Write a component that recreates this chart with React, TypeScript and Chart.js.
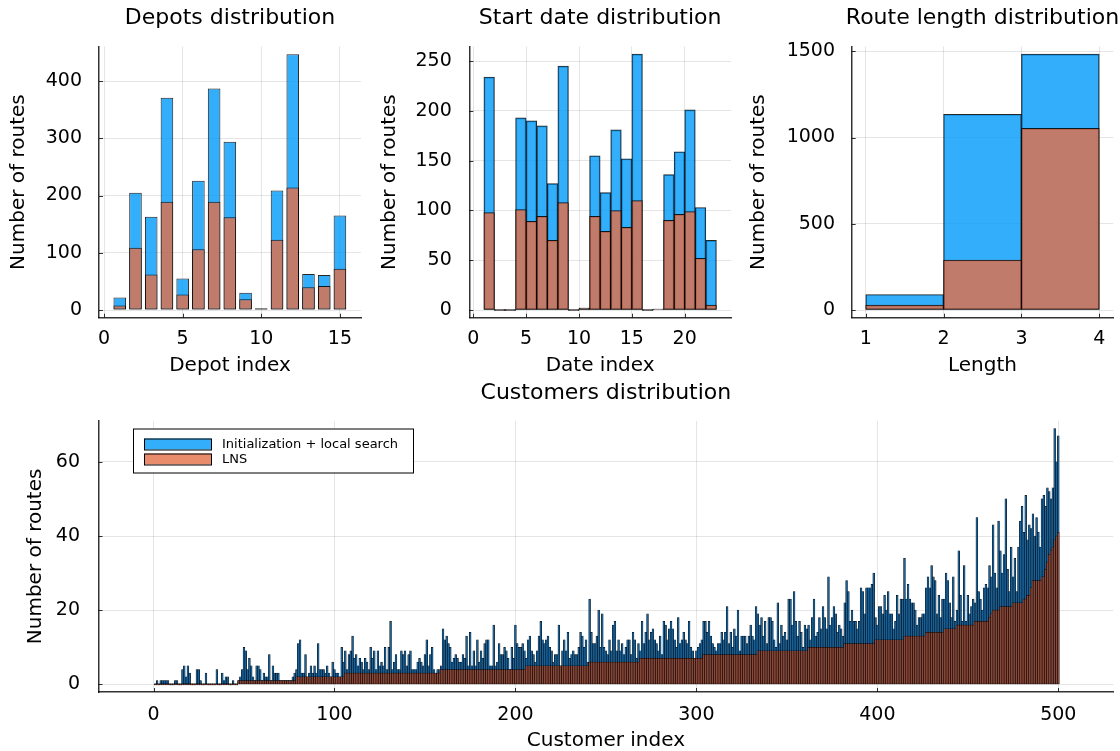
import React, { useEffect, useRef } from "react";
import { Chart, registerables } from "chart.js";

Chart.register(...registerables);

// ---------------- data ----------------
const seriesNames = ["Initialization + local search", "LNS"];

const depotIndex = [1, 2, 3, 4, 5, 6, 7, 8, 9, 10, 11, 12, 13, 14, 15];
const depotInit = [22, 205, 163, 371, 55, 226, 387, 294, 30, 3, 209, 447, 63, 61, 165];
const depotLNS = [8, 109, 62, 189, 27, 106, 189, 162, 19, 2, 123, 214, 40, 42, 72];

const dateBinCenters = [1.5, 2.5, 3.5, 4.5, 5.5, 6.5, 7.5, 8.5, 9.5, 10.5, 11.5, 12.5, 13.5, 14.5, 15.5, 16.5, 17.5, 18.5, 19.5, 20.5, 21.5, 22.5];
const dateInit = [234, 0, 0, 193, 190, 185, 127, 245, 0, 2, 155, 118, 181, 152, 257, 0, 1, 136, 159, 201, 103, 70];
const dateLNS = [98, 0, 0, 101, 89, 94, 70, 108, 0, 2, 94, 79, 100, 83, 110, 0, 1, 90, 96, 99, 52, 5];

const lengthBinCenters = [1.5, 2.5, 3.5];
const lengthInit = [90, 1135, 1483];
const lengthLNS = [28, 290, 1053];

const customerInit = [
  0, 1, 0, 1, 1, 1, 1, 1, 0, 0,
  0, 1, 1, 0, 0, 4, 5, 2, 5, 3,
  0, 0, 0, 4, 4, 1, 0, 0, 3, 0,
  0, 0, 0, 0, 4, 0, 0, 3, 1, 2,
  2, 0, 0, 1, 0, 0, 1, 2, 4, 10,
  9, 4, 7, 5, 2, 1, 5, 5, 4, 1,
  3, 2, 2, 8, 1, 5, 3, 3, 3, 1,
  1, 1, 1, 1, 1, 1, 2, 3, 4, 11,
  12, 3, 3, 8, 2, 3, 5, 3, 5, 3,
  11, 4, 4, 4, 3, 5, 3, 2, 6, 4,
  3, 3, 2, 10, 6, 9, 4, 8, 9, 13,
  7, 8, 5, 7, 6, 4, 7, 6, 4, 10,
  7, 9, 4, 9, 5, 6, 5, 10, 4, 10,
  17, 4, 6, 8, 4, 4, 9, 8, 9, 5,
  8, 9, 4, 4, 4, 6, 7, 6, 5, 8,
  12, 5, 8, 10, 4, 3, 4, 4, 5, 15,
  12, 13, 11, 10, 6, 7, 8, 7, 6, 6,
  8, 7, 13, 5, 14, 5, 9, 5, 12, 6,
  9, 7, 11, 12, 12, 5, 5, 16, 5, 6,
  11, 8, 8, 10, 9, 7, 4, 10, 7, 16,
  11, 10, 10, 11, 9, 7, 12, 13, 9, 8,
  6, 9, 13, 17, 12, 11, 12, 13, 10, 9,
  6, 8, 8, 16, 5, 9, 12, 9, 14, 7,
  8, 9, 8, 8, 10, 14, 13, 10, 12, 6,
  23, 14, 11, 11, 13, 20, 10, 19, 10, 9,
  8, 12, 9, 16, 17, 9, 12, 9, 11, 8,
  10, 12, 12, 8, 14, 12, 7, 11, 9, 17,
  11, 14, 19, 12, 14, 15, 12, 11, 9, 13,
  8, 17, 16, 12, 15, 17, 15, 12, 10, 18,
  11, 12, 14, 12, 11, 17, 10, 9, 7, 9,
  10, 11, 12, 17, 17, 14, 17, 13, 11, 10,
  9, 11, 11, 14, 12, 14, 21, 11, 14, 10,
  15, 13, 20, 9, 13, 13, 13, 11, 13, 16,
  13, 12, 21, 19, 16, 18, 13, 17, 11, 18,
  18, 17, 12, 10, 22, 11, 16, 13, 14, 12,
  23, 23, 16, 25, 17, 13, 17, 14, 10, 16,
  15, 16, 12, 18, 23, 13, 14, 18, 15, 21,
  18, 15, 29, 16, 18, 21, 19, 14, 16, 15,
  13, 22, 28, 25, 17, 20, 17, 17, 15, 17,
  26, 25, 19, 26, 26, 26, 27, 30, 18, 16,
  21, 21, 19, 24, 20, 25, 19, 19, 15, 17,
  24, 19, 23, 23, 34, 23, 27, 23, 22, 22,
  20, 16, 18, 18, 19, 19, 26, 29, 26, 32,
  29, 28, 19, 24, 18, 23, 23, 30, 28, 22,
  18, 29, 17, 20, 36, 24, 17, 32, 17, 24,
  19, 21, 23, 22, 45, 25, 23, 20, 26, 27,
  26, 32, 29, 43, 30, 26, 44, 36, 30, 35,
  50, 31, 25, 37, 29, 34, 25, 37, 44, 48,
  41, 51, 39, 43, 42, 46, 40, 45, 41, 37,
  50, 51, 48, 53, 52, 50, 53, 69, 60, 67,
];

const customerLNS = [
  0, 0, 0, 0, 0, 0, 0, 0, 0, 0,
  0, 0, 0, 0, 0, 0, 0, 0, 0, 0,
  0, 0, 0, 0, 0, 0, 0, 0, 0, 0,
  0, 0, 0, 0, 0, 0, 0, 0, 0, 0,
  0, 0, 0, 0, 0, 0, 1, 1, 1, 1,
  1, 1, 1, 1, 1, 1, 1, 1, 1, 1,
  1, 1, 1, 1, 1, 1, 1, 1, 1, 1,
  1, 1, 1, 1, 1, 1, 1, 1, 2, 2,
  2, 2, 2, 2, 2, 2, 2, 2, 2, 2,
  2, 2, 2, 2, 2, 2, 2, 2, 2, 2,
  2, 2, 2, 2, 2, 3, 3, 3, 3, 3,
  3, 3, 3, 3, 3, 3, 3, 3, 3, 3,
  3, 3, 3, 3, 3, 3, 3, 3, 3, 3,
  3, 3, 3, 3, 3, 3, 3, 3, 3, 3,
  3, 3, 3, 3, 3, 3, 3, 3, 3, 3,
  3, 3, 3, 3, 3, 3, 3, 3, 4, 4,
  4, 4, 4, 4, 4, 4, 4, 4, 4, 4,
  4, 4, 4, 4, 4, 4, 4, 4, 4, 4,
  4, 4, 4, 4, 4, 4, 4, 4, 4, 4,
  4, 4, 4, 4, 4, 4, 4, 4, 4, 4,
  4, 4, 4, 4, 4, 5, 5, 5, 5, 5,
  5, 5, 5, 5, 5, 5, 5, 5, 5, 5,
  5, 5, 5, 5, 5, 5, 5, 5, 5, 5,
  5, 5, 5, 5, 5, 5, 5, 5, 5, 5,
  6, 6, 6, 6, 6, 6, 6, 6, 6, 6,
  6, 6, 6, 6, 6, 6, 6, 6, 6, 6,
  6, 6, 6, 6, 6, 6, 6, 6, 7, 7,
  7, 7, 7, 7, 7, 7, 7, 7, 7, 7,
  7, 7, 7, 7, 7, 7, 7, 7, 7, 7,
  7, 7, 7, 7, 7, 7, 7, 7, 7, 7,
  7, 7, 7, 8, 8, 8, 8, 8, 8, 8,
  8, 8, 8, 8, 8, 8, 8, 8, 8, 8,
  8, 8, 8, 8, 8, 8, 8, 8, 8, 8,
  8, 8, 8, 9, 9, 9, 9, 9, 9, 9,
  9, 9, 9, 9, 9, 9, 9, 9, 9, 9,
  9, 9, 9, 9, 9, 9, 9, 9, 9, 9,
  9, 10, 10, 10, 10, 10, 10, 10, 10, 10,
  10, 10, 10, 10, 10, 10, 10, 10, 10, 10,
  10, 11, 11, 11, 11, 11, 11, 11, 11, 11,
  11, 11, 11, 11, 11, 11, 11, 11, 12, 12,
  12, 12, 12, 12, 12, 12, 12, 12, 12, 12,
  12, 12, 12, 12, 13, 13, 13, 13, 13, 13,
  13, 13, 13, 13, 13, 13, 14, 14, 14, 14,
  14, 14, 14, 14, 14, 14, 15, 15, 15, 15,
  15, 15, 15, 16, 16, 16, 16, 16, 16, 16,
  16, 16, 16, 17, 17, 17, 17, 17, 17, 17,
  17, 18, 19, 20, 20, 20, 20, 21, 21, 21,
  21, 21, 21, 21, 22, 22, 22, 22, 22, 22,
  23, 23, 24, 24, 26, 28, 28, 28, 28, 28,
  29, 29, 31, 33, 35, 36, 37, 39, 40, 41,
];
const customerIndex = customerInit.map((_, i) => i + 1);

const depotXTicks = [0, 5, 10, 15];
const depotYTicks = [0, 100, 200, 300, 400];
const dateXTicks = [0, 5, 10, 15, 20];
const dateYTicks = [0, 50, 100, 150, 200, 250];
const lengthXTicks = [1, 2, 3, 4];
const lengthYTicks = [0, 500, 1000, 1500];
const customerXTicks = [0, 100, 200, 300, 400, 500];
const customerYTicks = [0, 20, 40, 60];

// ---------------- style ----------------
const W = 1120;
const H = 751;
const FONT = "'DejaVu Sans', sans-serif";
const BLUE = "rgba(0,154,250,0.8)";
const ORANGE = "rgba(227,111,71,0.8)";
// thin customer bars are dominated by their dark outlines in the reference
const BLUE_THIN = "rgb(22,98,156)";
const ORANGE_THIN = "rgb(140,72,56)";
const EDGE = "rgba(0,0,0,0.85)";
const GRID = "rgba(0,0,0,0.1)";
const AXIS = "rgba(0,0,0,0.8)";
const TICK_SIZE = 19;
const GUIDE_SIZE = 20;
const TITLE_SIZE = 22;

const plotTitlePlugin = {
  id: "plotTitle",
  afterDraw(chart: any, _args: any, opts: any) {
    if (!opts || !opts.text) return;
    const { ctx, chartArea } = chart;
    ctx.save();
    ctx.font = `${TITLE_SIZE}px ${FONT}`;
    ctx.fillStyle = "#000";
    ctx.textAlign = "center";
    ctx.textBaseline = "middle";
    ctx.fillText(opts.text, (chartArea.left + chartArea.right) / 2, opts.y);
    ctx.restore();
  },
};

const tickMarksPlugin = {
  id: "tickMarks",
  afterDatasetsDraw(chart: any) {
    const { ctx, chartArea, scales } = chart;
    ctx.save();
    ctx.strokeStyle = AXIS;
    ctx.lineWidth = 1;
    for (const t of scales.x.ticks) {
      const px = Math.round(scales.x.getPixelForValue(t.value)) + 0.5;
      ctx.beginPath();
      ctx.moveTo(px, chartArea.bottom);
      ctx.lineTo(px, chartArea.bottom - 4);
      ctx.stroke();
    }
    for (const t of scales.y.ticks) {
      const py = Math.round(scales.y.getPixelForValue(t.value)) + 0.5;
      ctx.beginPath();
      ctx.moveTo(chartArea.left, py);
      ctx.lineTo(chartArea.left + 4, py);
      ctx.stroke();
    }
    ctx.restore();
  },
};

const boxLegendPlugin = {
  id: "boxLegend",
  afterDraw(chart: any, _args: any, opts: any) {
    if (!opts || !opts.items) return;
    const { ctx } = chart;
    const { x, y, w, h, items } = opts;
    ctx.save();
    ctx.fillStyle = "#fff";
    ctx.fillRect(x, y, w, h);
    ctx.strokeStyle = "#000";
    ctx.lineWidth = 1;
    ctx.strokeRect(x + 0.5, y + 0.5, w, h);
    ctx.font = `13px ${FONT}`;
    ctx.textBaseline = "middle";
    ctx.textAlign = "left";
    items.forEach((it: any, i: number) => {
      const sy = y + 10 + i * 15;
      ctx.fillStyle = it.color;
      ctx.fillRect(x + 11, sy, 67, 11);
      ctx.strokeStyle = "#000";
      ctx.strokeRect(x + 11.5, sy + 0.5, 67, 11);
      ctx.fillStyle = "#000";
      ctx.fillText(it.text, x + 89, sy + 6);
    });
    ctx.restore();
  },
};

type Panel = {
  title: string;
  titleY: number;
  L: number;
  T: number;
  R: number;
  B: number;
  yTitleX: number;
  xTickY: number;
  xTitleY: number;
  yTickGap: number;
  xMin: number;
  xMax: number;
  yMin: number;
  yMax: number;
  xTicks: number[];
  yTicks: number[];
  xLabel: string;
  yLabel: string;
  datasets: any[];
  legend?: any;
};

function makeBars(xs: number[], ys: number[], label: string, color: string, order: number, extra: any) {
  return {
    label,
    data: xs.map((x, i) => ({ x, y: ys[i] })),
    backgroundColor: color,
    borderColor: EDGE,
    borderSkipped: false,
    grouped: false,
    order,
    categoryPercentage: 1,
    ...extra,
  };
}

function buildConfig(p: Panel): any {
  const yBoxLeft = p.yTitleX - GUIDE_SIZE / 2;
  const xBoxBottom = p.xTitleY + GUIDE_SIZE / 2;
  const axisFont = { family: FONT, size: TICK_SIZE, lineHeight: 1 };
  const guideFont = { family: FONT, size: GUIDE_SIZE, lineHeight: 1 };
  return {
    type: "bar",
    data: { datasets: p.datasets },
    options: {
      responsive: false,
      animation: false,
      events: [],
      layout: {
        padding: { left: yBoxLeft, top: p.T, right: W - p.R, bottom: H - xBoxBottom },
      },
      plugins: {
        legend: { display: false },
        tooltip: { enabled: false },
        title: { display: false },
        plotTitle: { text: p.title, y: p.titleY },
        boxLegend: p.legend || {},
      },
      scales: {
        x: {
          type: "linear",
          min: p.xMin,
          max: p.xMax,
          offset: false,
          afterBuildTicks: (s: any) => {
            s.ticks = p.xTicks.map((v) => ({ value: v }));
          },
          afterFit: (s: any) => {
            s.height = xBoxBottom - p.B;
          },
          grid: { color: GRID, lineWidth: 1, drawTicks: false, offset: false },
          border: { display: true, color: AXIS, width: 1.5 },
          ticks: {
            font: axisFont,
            color: "#000",
            padding: p.xTickY - p.B - TICK_SIZE / 2,
            maxRotation: 0,
            autoSkip: false,
            callback: (v: any) => String(v),
          },
          title: { display: true, text: p.xLabel, font: guideFont, color: "#000", padding: 0 },
        },
        y: {
          type: "linear",
          min: p.yMin,
          max: p.yMax,
          afterBuildTicks: (s: any) => {
            s.ticks = p.yTicks.map((v) => ({ value: v }));
          },
          afterFit: (s: any) => {
            s.width = p.L - yBoxLeft;
          },
          grid: { color: GRID, lineWidth: 1, drawTicks: false },
          border: { display: true, color: AXIS, width: 1.5 },
          ticks: {
            font: axisFont,
            color: "#000",
            padding: p.yTickGap,
            autoSkip: false,
            callback: (v: any) => String(v),
          },
          title: { display: true, text: p.yLabel, font: guideFont, color: "#000", padding: 0 },
        },
      },
    },
    plugins: [plotTitlePlugin, tickMarksPlugin, boxLegendPlugin],
  };
}

const topBar = { borderWidth: 1, barPercentage: 0.8, minBarLength: 1 };
const histBar = { borderWidth: 1, barPercentage: 1, minBarLength: 1 };
const custBar = { borderWidth: 0.5, barPercentage: 1, minBarLength: 1, borderColor: "#000" };

const panels: Panel[] = [
  {
    title: "Depots distribution",
    titleY: 18.5,
    L: 99, T: 46.5, R: 361, B: 317.7,
    yTitleX: 19.2, xTickY: 339, xTitleY: 366, yTickGap: 17,
    xMin: -0.32, xMax: 16.34, yMin: -13.4, yMax: 460.4,
    xTicks: depotXTicks, yTicks: depotYTicks,
    xLabel: "Depot index", yLabel: "Number of routes",
    datasets: [
      makeBars(depotIndex, depotInit, seriesNames[0], BLUE, 1, topBar),
      makeBars(depotIndex, depotLNS, seriesNames[1], ORANGE, 0, topBar),
    ],
  },
  {
    title: "Start date distribution",
    titleY: 18.5,
    L: 469.3, T: 46.5, R: 731, B: 317.7,
    yTitleX: 389.5, xTickY: 339, xTitleY: 366, yTickGap: 17.5,
    xMin: -0.38, xMax: 24.38, yMin: -7.71, yMax: 264.71,
    xTicks: dateXTicks, yTicks: dateYTicks,
    xLabel: "Date index", yLabel: "Number of routes",
    datasets: [
      makeBars(dateBinCenters, dateInit, seriesNames[0], BLUE, 1, histBar),
      makeBars(dateBinCenters, dateLNS, seriesNames[1], ORANGE, 0, histBar),
    ],
  },
  {
    title: "Route length distribution",
    titleY: 18.5,
    L: 851.7, T: 46.5, R: 1113.3, B: 317.7,
    yTitleX: 759, xTickY: 339, xTitleY: 366, yTickGap: 16.7,
    xMin: 0.82, xMax: 4.18, yMin: -44.5, yMax: 1527.5,
    xTicks: lengthXTicks, yTicks: lengthYTicks,
    xLabel: "Length", yLabel: "Number of routes",
    datasets: [
      makeBars(lengthBinCenters, lengthInit, seriesNames[0], BLUE, 1, histBar),
      makeBars(lengthBinCenters, lengthLNS, seriesNames[1], ORANGE, 0, histBar),
    ],
  },
  {
    title: "Customers distribution",
    titleY: 393,
    L: 98.5, T: 420.8, R: 1113.3, B: 692,
    yTitleX: 36, xTickY: 715, xTitleY: 741, yTickGap: 18.5,
    xMin: -30.4, xMax: 530.4, yMin: -2.07, yMax: 71.07,
    xTicks: customerXTicks, yTicks: customerYTicks,
    xLabel: "Customer index", yLabel: "Number of routes",
    datasets: [
      makeBars(customerIndex, customerInit, seriesNames[0], BLUE_THIN, 1, custBar),
      makeBars(customerIndex, customerLNS, seriesNames[1], ORANGE_THIN, 0, custBar),
    ],
    legend: {
      x: 133, y: 428.5, w: 280, h: 44,
      items: [
        { text: seriesNames[0], color: BLUE },
        { text: seriesNames[1], color: ORANGE },
      ],
    },
  },
];

function PanelCanvas({ panel }: { panel: Panel }) {
  const ref = useRef<HTMLCanvasElement | null>(null);
  useEffect(() => {
    if (!ref.current) return;
    const chart = new Chart(ref.current, buildConfig(panel));
    return () => chart.destroy();
  }, [panel]);
  return (
    <canvas
      ref={ref}
      width={W}
      height={H}
      style={{ position: "absolute", left: 0, top: 0, width: W, height: H }}
    />
  );
}

export default function App() {
  return (
    <div style={{ position: "absolute", left: 0, top: 0, width: W, height: H, background: "#fff" }}>
      {panels.map((p, i) => (
        <PanelCanvas key={i} panel={p} />
      ))}
    </div>
  );
}
